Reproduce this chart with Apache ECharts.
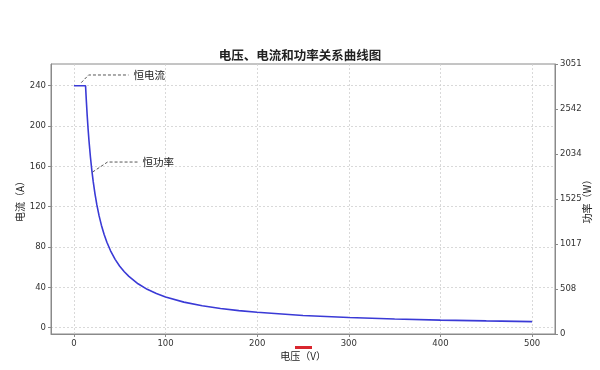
<!DOCTYPE html>
<html><head><meta charset="utf-8">
<script src="https://cdn.jsdelivr.net/npm/echarts@6/dist/echarts.min.js"></script>
<style>html,body{margin:0;padding:0;background:#fff}#c{width:600px;height:370px}</style>
</head><body><div id="c"></div>
<script>
// Data
const voltage = [0, 5, 10, 12.7, 13.5, 14.5, 15.5, 16.5, 18, 19.5, 21, 23, 25, 27.5, 30, 33, 36, 40, 45, 50, 55, 60, 70, 80, 90, 100, 120, 140, 160, 180, 200, 250, 300, 350, 400, 450, 500];
const current = [240, 240, 240, 240, 226.0, 210.4, 196.8, 184.9, 169.5, 156.5, 145.3, 132.7, 122.0, 110.9, 101.7, 92.5, 84.8, 76.3, 67.8, 61.0, 55.5, 50.9, 43.6, 38.1, 33.9, 30.5, 25.4, 21.8, 19.1, 17.0, 15.3, 12.2, 10.2, 8.7, 7.6, 6.8, 6.1];
const xTicks = [0, 100, 200, 300, 400, 500];
const yLeftTicks = [0, 40, 80, 120, 160, 200, 240];
const yRightTickLabels = ['0', '508', '1017', '1525', '2034', '2542', '3051'];
const powerMax = 3051;
const titleText = '电压、电流和功率关系曲线图';
const annCC = { text: '恒电流', path: [[8, 243], [16, 250.6], [59.6, 250.6]] };
const annCP = { text: '恒功率', path: [[20.4, 154.4], [36.7, 164.3], [69.4, 164.3]] };

const cjk = '"Noto Sans CJK SC", "Noto Sans", sans-serif';
const tickFont = { color: '#333', fontSize: 8.5, fontFamily: '"DejaVu Sans", sans-serif' };
const axisGray = '#8a8a8a';
const gridLine = { show: true, lineStyle: { color: '#d0d0d0', type: [2, 2], width: 0.8 } };

const chart = echarts.init(document.getElementById('c'), null, { renderer: 'canvas' });

function annSeries(a) {
  return {
    type: 'line', data: a.path, symbol: 'none', silent: true, z: 5,
    lineStyle: { color: '#444', width: 0.9, type: [3, 2] },
    endLabel: { show: true, formatter: a.text, fontFamily: cjk, fontSize: 10.5, color: '#222', distance: 5 }
  };
}

chart.setOption({
  animation: false,
  title: {
    text: titleText, left: 'center', top: 44,
    textStyle: { fontFamily: cjk, fontSize: 12.5, fontWeight: 'bold', color: '#222' }
  },
  grid: { left: 51, right: 45, top: 64, bottom: 36, show: true, borderColor: axisGray, borderWidth: 1, containLabel: false, outerBoundsMode: 'none' },
  xAxis: {
    type: 'value', min: -25, max: 525,
    name: '电压（V）', nameLocation: 'middle', nameGap: 17, nameMoveOverlap: false,
    nameTextStyle: { fontFamily: cjk, fontSize: 10, color: '#222' },
    axisLine: { show: true, onZero: false, lineStyle: { color: axisGray } },
    axisTick: { show: true, customValues: xTicks, length: 3, lineStyle: { color: axisGray } },
    axisLabel: Object.assign({ customValues: xTicks, margin: 5 }, tickFont),
    splitLine: gridLine
  },
  yAxis: [{
    type: 'value', min: -6.2, max: 261.5,
    name: '电流（A）', nameLocation: 'middle', nameGap: 26, nameRotate: 90, nameMoveOverlap: false,
    nameTextStyle: { fontFamily: cjk, fontSize: 10, color: '#222' },
    axisLine: { show: true, onZero: false, lineStyle: { color: axisGray } },
    axisTick: { show: true, customValues: yLeftTicks, length: 3, lineStyle: { color: axisGray } },
    axisLabel: Object.assign({ customValues: yLeftTicks, margin: 5 }, tickFont),
    splitLine: gridLine
  }, {
    type: 'value', min: 0, max: powerMax, interval: powerMax / 6, position: 'right',
    name: '功率（W）', nameLocation: 'middle', nameGap: 27, nameRotate: 90, nameMoveOverlap: false,
    nameTextStyle: { fontFamily: cjk, fontSize: 10, color: '#222' },
    axisLine: { show: true, onZero: false, lineStyle: { color: axisGray } },
    axisTick: { show: true, length: 3, lineStyle: { color: axisGray } },
    axisLabel: Object.assign({ margin: 5, formatter: (v, i) => yRightTickLabels[i] }, tickFont),
    splitLine: { show: false }
  }],
  graphic: [{
    type: 'rect', left: 295, top: 346, shape: { width: 17, height: 3 }, style: { fill: '#d9262e' }
  }],
  series: [{
    type: 'line', data: voltage.map((v, i) => [v, current[i]]), symbol: 'none',
    lineStyle: { color: '#3a3ad6', width: 1.6 }, z: 3
  }, {
    type: 'line', yAxisIndex: 1, data: [], symbol: 'none'
  }, annSeries(annCC), annSeries(annCP)]
});
</script></body></html>
